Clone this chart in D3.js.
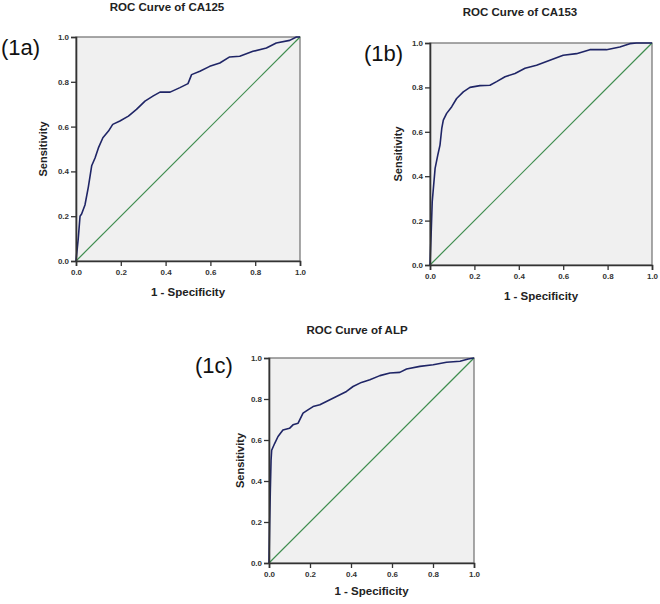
<!DOCTYPE html>
<html>
<head>
<meta charset="utf-8">
<script src="https://cdn.jsdelivr.net/npm/d3@7"></script>
<style>
  html, body { margin: 0; padding: 0; background: #ffffff; }
  svg { display: block; }
</style>
</head>
<body>
<svg id="chart" width="660" height="604"></svg>
<script>
// ---- Data ----
const tickValues = [0, 0.2, 0.4, 0.6, 0.8, 1.0];
const tickLabels = ["0.0", "0.2", "0.4", "0.6", "0.8", "1.0"];

const panelTitles = ["ROC Curve of CA125", "ROC Curve of CA153", "ROC Curve of ALP"];
const panelTags = ["(1a)", "(1b)", "(1c)"];

const ca125Fpr = [0, 0.01, 0.018, 0.025, 0.04, 0.055, 0.07, 0.085, 0.1, 0.12, 0.145, 0.164, 0.196, 0.234, 0.27, 0.308, 0.345, 0.375, 0.42, 0.464, 0.5, 0.516, 0.553, 0.597, 0.642, 0.686, 0.731, 0.79, 0.85, 0.894, 0.954, 0.984, 1];
const ca125Tpr = [0, 0.1, 0.2, 0.21, 0.25, 0.33, 0.425, 0.46, 0.505, 0.55, 0.58, 0.61, 0.625, 0.647, 0.677, 0.714, 0.737, 0.754, 0.754, 0.774, 0.792, 0.832, 0.847, 0.869, 0.884, 0.911, 0.914, 0.936, 0.951, 0.973, 0.985, 1.0, 1];

const ca153Fpr = [0, 0.005, 0.01, 0.023, 0.035, 0.045, 0.053, 0.06, 0.075, 0.098, 0.12, 0.15, 0.18, 0.225, 0.27, 0.3, 0.338, 0.383, 0.428, 0.48, 0.54, 0.6, 0.66, 0.72, 0.795, 0.855, 0.9, 0.93, 1];
const ca153Tpr = [0, 0.135, 0.285, 0.435, 0.495, 0.54, 0.615, 0.653, 0.683, 0.713, 0.75, 0.78, 0.8, 0.808, 0.81, 0.826, 0.848, 0.863, 0.886, 0.9, 0.922, 0.945, 0.952, 0.97, 0.97, 0.982, 0.997, 1, 1];

const alpFpr = [0, 0.003, 0.0065, 0.01, 0.013, 0.028, 0.044, 0.068, 0.1, 0.117, 0.142, 0.166, 0.19, 0.215, 0.248, 0.28, 0.329, 0.378, 0.41, 0.451, 0.492, 0.541, 0.59, 0.638, 0.671, 0.736, 0.801, 0.866, 0.932, 0.972, 1];
const alpTpr = [0, 0.176, 0.356, 0.5, 0.55, 0.584, 0.617, 0.649, 0.657, 0.674, 0.682, 0.731, 0.747, 0.763, 0.772, 0.788, 0.812, 0.837, 0.861, 0.881, 0.894, 0.914, 0.927, 0.93, 0.946, 0.959, 0.967, 0.979, 0.984, 0.995, 1];

const refLine = [0, 1];

// ---- Layout ----
const panels = [
  { fpr: ca125Fpr, tpr: ca125Tpr, x0: 76, x1: 300, y0: 37, y1: 261,
    titleX: 167, titleY: 11, tagX: 1, tagY: 55, ylabX: 43, xlabY: 296 },
  { fpr: ca153Fpr, tpr: ca153Tpr, x0: 430, x1: 652, y0: 43, y1: 265,
    titleX: 520, titleY: 16, tagX: 364, tagY: 61, ylabX: 398, xlabY: 300 },
  { fpr: alpFpr, tpr: alpTpr, x0: 269, x1: 474, y0: 358, y1: 563,
    titleX: 357, titleY: 334, tagX: 195, tagY: 373, ylabX: 240, xlabY: 595 }
];

const svg = d3.select("#chart");
const FONT = "Liberation Sans, Arial, Helvetica, sans-serif";

panels.forEach((p, i) => {
  const x = d3.scaleLinear().domain([0, 1]).range([p.x0, p.x1]);
  const y = d3.scaleLinear().domain([0, 1]).range([p.y1, p.y0]);
  const g = svg.append("g");

  // plot background
  g.append("rect")
    .attr("x", x(0)).attr("y", y(1))
    .attr("width", x(1) - x(0)).attr("height", y(0) - y(1))
    .attr("fill", "#f0f0f0")
    .attr("stroke", "#6e6e6e").attr("stroke-width", 1.2);

  // reference diagonal
  const line = d3.line().x(d => x(d[0])).y(d => y(d[1]));
  g.append("path")
    .datum(refLine.map(v => [v, v]))
    .attr("d", line)
    .attr("fill", "none").attr("stroke", "#3f8d4f").attr("stroke-width", 1.2);

  // ROC curve
  g.append("path")
    .datum(p.fpr.map((v, k) => [v, p.tpr[k]]))
    .attr("d", line)
    .attr("fill", "none").attr("stroke", "#1f2566").attr("stroke-width", 1.6)
    .attr("stroke-linejoin", "round");

  // axes
  const fmt = d => tickLabels[tickValues.indexOf(d)];
  const xa = g.append("g").attr("transform", `translate(0,${y(0)})`)
    .call(d3.axisBottom(x).tickValues(tickValues).tickFormat(fmt).tickSize(5).tickPadding(3));
  const ya = g.append("g").attr("transform", `translate(${x(0)},0)`)
    .call(d3.axisLeft(y).tickValues(tickValues).tickFormat(fmt).tickSize(5).tickPadding(2));
  [xa, ya].forEach(a => {
    a.select(".domain").attr("stroke", "#333").attr("stroke-width", 1.6);
    a.selectAll(".tick line").attr("stroke", "#333").attr("stroke-width", 1.3);
    a.selectAll(".tick text").attr("fill", "#333")
      .style("font-family", FONT).style("font-size", "8px").style("font-weight", "bold");
  });

  // title
  g.append("text").attr("x", p.titleX).attr("y", p.titleY)
    .attr("text-anchor", "middle")
    .style("font-family", FONT).style("font-size", "11.5px").style("font-weight", "bold")
    .attr("fill", "#222").text(panelTitles[i]);

  // panel tag
  g.append("text").attr("x", p.tagX).attr("y", p.tagY)
    .style("font-family", FONT).style("font-size", "22px")
    .attr("fill", "#111").text(panelTags[i]);

  // axis titles
  g.append("text")
    .attr("transform", `translate(${p.ylabX},${(p.y0 + p.y1) / 2}) rotate(-90)`)
    .attr("text-anchor", "middle").attr("dy", "0.35em")
    .style("font-family", FONT).style("font-size", "11px").style("font-weight", "bold")
    .attr("fill", "#222").text("Sensitivity");
  g.append("text").attr("x", (p.x0 + p.x1) / 2).attr("y", p.xlabY)
    .attr("text-anchor", "middle")
    .style("font-family", FONT).style("font-size", "11.5px").style("font-weight", "bold")
    .attr("fill", "#222").text("1 - Specificity");
});
</script>
</body>
</html>
